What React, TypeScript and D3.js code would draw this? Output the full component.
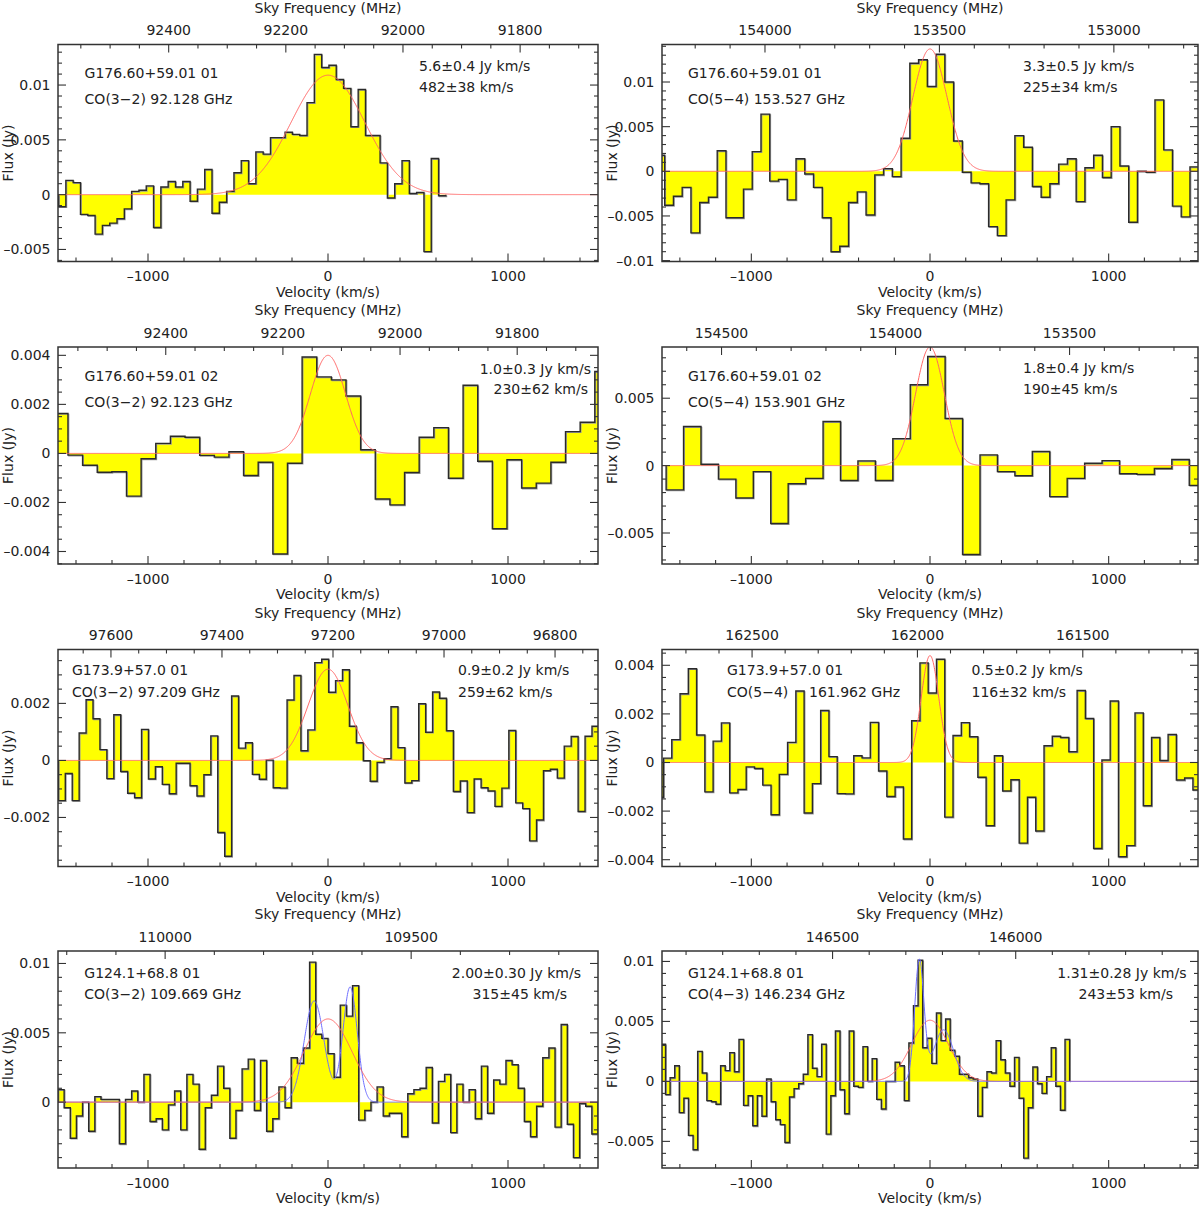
import React from 'react';
import * as d3 from 'd3';

const C_KMS = 299792.458;
const V_MIN = -1500;
const V_MAX = 1500;

// ---------- data (flux in Jy per velocity channel) ----------
const P1_VSTART = -1497, P1_DV = 40.6, P1_NU0 = 92128;
const P1_FLUX = [-0.0011, 0.0013, 0.0011, -0.0018, -0.0019, -0.0036, -0.0028, -0.0026, -0.0022, -0.0013,
  0.0003, 0.0004, 0.0008, -0.003, 0.0007, 0.0012, 0.0007, 0.0012, -0.0006, 0.0005,
  0.0023, -0.0017, -0.0007, 0.0003, 0.0020, 0.0031, 0.0010, 0.0039, 0.0037, 0.0052,
  0.0052, 0.0057, 0.0055, 0.0054, 0.0084, 0.0128, 0.0116, 0.0118, 0.0105, 0.0097,
  0.0062, 0.0096, 0.0054, 0.0054, 0.0029, -0.0003, 0.0010, 0.0031, 0.0001, 0.0002,
  -0.0052, 0.0033, -0.0001];

const P2_VSTART = -1534, P2_DV = 49, P2_NU0 = 153527;
const P2_FLUX = [0.0018, -0.0038, -0.0028, -0.0018, -0.0069, -0.0035, -0.0029, 0.0023, -0.0052, -0.0052,
  -0.0020, 0.0022, 0.0064, -0.0011, -0.0009, -0.0032, 0.0014, -0.0003, -0.0018, -0.0052,
  -0.0090, -0.0084, -0.0035, -0.0023, -0.0049, -0.0004, 0.0003, -0.0006, 0.0037, 0.0121,
  0.0125, 0.0095, 0.0131, 0.0100, 0.0034, -0.0001, -0.0013, -0.0014, -0.0062, -0.0072,
  -0.0032, 0.0040, 0.0027, -0.0017, -0.0029, -0.0014, 0.0008, 0.0014, -0.0034, 0.0004,
  0.0018, -0.0007, 0.0050, 0.0006, -0.0057, 0.0000, -0.0001, 0.0080, 0.0024, -0.0039,
  -0.0051, 0.0005];

const P3_VSTART = -1526, P3_DV = 81.3, P3_NU0 = 92123;
const P3_FLUX = [0.00163, -0.00007, -0.00048, -0.00077, -0.00075, -0.00174, -0.00022, 0.00041, 0.0007, 0.00066,
  -0.00008, -0.00015, 0.00007, -0.0009, -0.00036, -0.0041, -0.0004, 0.00393, 0.00312, 0.003,
  0.00234, 0.00015, -0.00186, -0.0021, -0.00078, 0.00066, 0.00105, -0.00101, 0.00278, -0.00032,
  -0.00307, -0.00026, -0.00141, -0.00121, -0.00036, 0.00089, 0.00127, 0.00334];

const P4_VSTART = -1477, P4_DV = 97.6, P4_NU0 = 153901;
const P4_FLUX = [-0.0018, 0.0029, 0.0001, -0.001, -0.0024, -0.00045, -0.0043, -0.00135, -0.00095, 0.00327,
  -0.0011, 0.00035, -0.0011, 0.002, 0.006, 0.0081, 0.0035, -0.0066, 0.0008, -0.00045,
  -0.00075, 0.00105, -0.0023, -0.00095, 0.00017, 0.00037, -0.0006, -0.00065, -0.00022, 0.00045,
  -0.00147];

const P5_VSTART = -1498, P5_DV = 38.5, P5_NU0 = 97209;
const P5_FLUX = [-0.00141, -0.00046, -0.00141, 0.00096, 0.00213, 0.00146, 0.00038, -0.00064, 0.0016, -0.00039,
  -0.00115, -0.00131, 0.00109, -0.00065, -0.00022, -0.00084, -0.00117, -0.0001, -0.0001, -0.00089,
  -0.00125, -0.0005, 0.00086, -0.00253, -0.00336, 0.00226, 0.00043, 0.00062, -0.00049, -0.00066,
  0.00001, -0.00096, -0.00097, 0.00212, 0.00298, 0.00034, 0.00107, 0.00343, 0.00355, 0.00239,
  0.0028, 0.00318, 0.0012, 0.00062, -0.00001, -0.00073, -0.00007, 0.00006, 0.00188, 0.00045,
  -0.00079, -0.00071, 0.00199, 0.00099, 0.0024, 0.00218, 0.00104, -0.00109, -0.00072, -0.00183,
  -0.00065, -0.00096, -0.00107, -0.00161, -0.00097, 0.00105, -0.00149, -0.00169, -0.00282, -0.00209,
  -0.00036, -0.00031, -0.00062, 0.0005, 0.00084, -0.00179, 0.00085, 0.0012];

const P6_VSTART = -1538, P6_DV = 46.3, P6_NU0 = 161962;
const P6_FLUX = [-0.00143, 0.00018, 0.00094, 0.00283, 0.00386, 0.00113, -0.00121, 0.00088, 0.00163, -0.00125,
  -0.00111, -0.00018, -0.00025, -0.00093, -0.00215, -0.00049, 0.00083, 0.00294, -0.00208, -0.00087,
  0.00214, 0.00024, -0.00128, -0.00129, 0.00028, 0.00019, 0.00165, -0.00035, -0.0014, -0.00101,
  -0.00315, 0.00172, 0.0041, 0.00286, 0.00425, -0.00225, 0.00111, 0.00164, 0.00106, -0.00061,
  -0.0026, 0.00028, -0.00117, -0.00071, -0.00332, -0.00143, -0.00282, 0.00069, 0.00108, 0.00103,
  0.00044, 0.00296, 0.00181, -0.00354, 0.0001, 0.00253, -0.00388, -0.00342, 0.00204, -0.00178,
  0.00103, 0.00008, 0.00115, -0.00072, -0.00064, -0.00113];

const P7_VSTART = -1500, P7_DV = 34.09, P7_NU0 = 109669;
const P7_FLUX = [0.0009, -0.0004, -0.0026, -0.001, 0.0000, -0.0021, 0.0004, 0.0002, 0.0002, 0.0002,
  -0.003, 0.0002, 0.0008, 0.0000, 0.002, -0.0014, -0.0012, -0.002, -0.0002, 0.0008,
  -0.002, 0.002, 0.0013, -0.0034, -0.0004, 0.0005, 0.0026, 0.001, -0.0026, -0.0006,
  0.0024, 0.0031, -0.0006, 0.003, -0.0021, -0.0012, 0.0011, -0.0004, 0.0032, 0.0028,
  0.0039, 0.0101, 0.0049, 0.0046, 0.0035, 0.0018, 0.007, 0.0062, 0.0084, -0.0013,
  -0.0006, 0.0000, 0.0011, -0.001, -0.0008, -0.0008, -0.0025, 0.0006, 0.0009, 0.001,
  0.0025, -0.0015, 0.0015, 0.002, -0.0022, 0.0013, 0.0000, 0.0009, -0.0012, 0.0026,
  -0.0008, 0.0016, 0.0013, 0.003, 0.0027, 0.001, -0.0014, -0.0025, -0.0003, 0.0032,
  0.0039, -0.0018, 0.0056, -0.0016, -0.004, -0.0001, -0.0003, -0.0023];

const P8_VSTART = -1506, P8_DV = 25.7, P8_NU0 = 146234;
const P8_FLUX = [0.0031, -0.0011, 0.0003, 0.0013, -0.0026, -0.0014, -0.0045, -0.0057, 0.0025, 0.0007,
  -0.0016, -0.0017, -0.0019, 0.0013, 0.0009, 0.0024, 0.0008, 0.0035, -0.002, -0.0012,
  -0.0037, -0.0012, -0.0029, 0.0002, -0.0017, -0.0032, -0.0036, -0.0051, -0.0013, -0.0006,
  -0.0002, 0.0006, 0.0039, 0.0011, 0.0004, 0.0031, -0.0044, -0.0012, 0.0042, -0.0007,
  -0.0027, 0.0042, -0.0004, -0.0005, 0.0029, 0.0000, 0.0019, -0.0015, -0.0023, 0.0000,
  0.0000, 0.0016, 0.0013, -0.0016, 0.0032, 0.0063, 0.0101, 0.0028, 0.0036, 0.0015,
  0.0057, 0.0034, 0.0052, 0.0026, 0.0021, 0.0006, 0.0006, 0.0003, 0.0002, -0.0029,
  -0.0005, 0.0008, 0.0007, 0.0034, 0.0018, 0.0007, -0.0004, 0.002, -0.0014, -0.0064,
  -0.0022, 0.0012, -0.0002, -0.001, 0.0004, 0.0028, -0.0004, -0.0024, 0.0035];

// Gaussian fits: [center km/s, peak Jy, FWHM km/s]
const P1_RED = [[0, 0.0109, 482]];
const P2_RED = [[0, 0.0137, 225]];
const P3_RED = [[0, 0.0040, 230]];
const P4_RED = [[0, 0.0088, 190]];
const P5_RED = [[0, 0.0032, 259]];
const P6_RED = [[0, 0.0044, 116]];
const P7_RED = [[0, 0.0060, 315]];
const P7_BLUE = [[-77, 0.0073, 130], [123, 0.0083, 94]];
const P8_RED = [[0, 0.0051, 243]];
const P8_BLUE = [[-60, 0.0100, 61], [76, 0.0043, 130]];

// tick labels
const VEL_LABELS = [-1000, 0, 1000];
const VEL_MINOR = [-1400, -1200, -1000, -800, -600, -400, -200, 0, 200, 400, 600, 800, 1000, 1200, 1400];
const P1_FREQ = [92400, 92200, 92000, 91800];
const P2_FREQ = [154000, 153500, 153000];
const P3_FREQ = [92400, 92200, 92000, 91800];
const P4_FREQ = [154500, 154000, 153500];
const P5_FREQ = [97600, 97400, 97200, 97000, 96800];
const P6_FREQ = [162500, 162000, 161500];
const P7_FREQ = [110000, 109500];
const P8_FREQ = [146500, 146000];
const P1_YT = [0.01, 0.005, 0, -0.005];
const P2_YT = [0.01, 0.005, 0, -0.005, -0.01];
const P3_YT = [0.004, 0.002, 0, -0.002, -0.004];
const P4_YT = [0.005, 0, -0.005];
const P5_YT = [0.002, 0, -0.002];
const P6_YT = [0.004, 0.002, 0, -0.002, -0.004];
const P7_YT = [0.01, 0.005, 0];
const P8_YT = [0.01, 0.005, 0, -0.005];

// ---------- layout ----------
const COL_LEFT = [58, 662];
const COL_W = [540, 536];
const ROW_TOP = [44.5, 347, 649.5, 951];
const PANEL_H = 217;
const FONT = "'DejaVu Sans', sans-serif";
const FS = 14;
const INK = '#222';

type Note = { t: string; dx: number; dy: number; end?: boolean };
type Cfg = {
  id: string; col: number; row: number; flux: number[]; vStart: number; dv: number; nu0: number;
  freq: number[]; fMinor: number; yDomain: [number, number]; yTicks: number[]; yMinor: number;
  red: number[][]; blue: number[][] | null; blueOnTop: boolean; notes: Note[];
};

const PANELS: Cfg[] = [
  { id: 'p1', col: 0, row: 0, flux: P1_FLUX, vStart: P1_VSTART, dv: P1_DV, nu0: P1_NU0, freq: P1_FREQ, fMinor: 50,
    yDomain: [-0.0061, 0.0137], yTicks: P1_YT, yMinor: 0.001, red: P1_RED, blue: null, blueOnTop: false,
    notes: [{ t: 'G176.60+59.01 01', dx: 26.6, dy: 28.5 }, { t: 'CO(3\u22122) 92.128 GHz', dx: 26.6, dy: 54.5 },
      { t: '5.6\u00b10.4 Jy km/s', dx: 361, dy: 21.5 }, { t: '482\u00b138 km/s', dx: 361, dy: 42.5 }] },
  { id: 'p2', col: 1, row: 0, flux: P2_FLUX, vStart: P2_VSTART, dv: P2_DV, nu0: P2_NU0, freq: P2_FREQ, fMinor: 100,
    yDomain: [-0.0101, 0.0142], yTicks: P2_YT, yMinor: 0.001, red: P2_RED, blue: null, blueOnTop: false,
    notes: [{ t: 'G176.60+59.01 01', dx: 26, dy: 28.5 }, { t: 'CO(5\u22124) 153.527 GHz', dx: 26, dy: 54.5 },
      { t: '3.3\u00b10.5 Jy km/s', dx: 361, dy: 21.5 }, { t: '225\u00b134 km/s', dx: 361, dy: 42.5 }] },
  { id: 'p3', col: 0, row: 1, flux: P3_FLUX, vStart: P3_VSTART, dv: P3_DV, nu0: P3_NU0, freq: P3_FREQ, fMinor: 50,
    yDomain: [-0.00451, 0.00434], yTicks: P3_YT, yMinor: 0.0005, red: P3_RED, blue: null, blueOnTop: false,
    notes: [{ t: 'G176.60+59.01 02', dx: 26.6, dy: 29 }, { t: 'CO(3\u22122) 92.123 GHz', dx: 26.6, dy: 54.7 },
      { t: '1.0\u00b10.3 Jy km/s', dx: 533, dy: 22, end: true }, { t: '230\u00b162 km/s', dx: 530, dy: 42, end: true }] },
  { id: 'p4', col: 1, row: 1, flux: P4_FLUX, vStart: P4_VSTART, dv: P4_DV, nu0: P4_NU0, freq: P4_FREQ, fMinor: 100,
    yDomain: [-0.0073, 0.0088], yTicks: P4_YT, yMinor: 0.001, red: P4_RED, blue: null, blueOnTop: false,
    notes: [{ t: 'G176.60+59.01 02', dx: 26, dy: 29 }, { t: 'CO(5\u22124) 153.901 GHz', dx: 26, dy: 54.7 },
      { t: '1.8\u00b10.4 Jy km/s', dx: 361, dy: 21 }, { t: '190\u00b145 km/s', dx: 361, dy: 42 }] },
  { id: 'p5', col: 0, row: 2, flux: P5_FLUX, vStart: P5_VSTART, dv: P5_DV, nu0: P5_NU0, freq: P5_FREQ, fMinor: 50,
    yDomain: [-0.00372, 0.00389], yTicks: P5_YT, yMinor: 0.0005, red: P5_RED, blue: null, blueOnTop: false,
    notes: [{ t: 'G173.9+57.0 01', dx: 14, dy: 20.5 }, { t: 'CO(3\u22122) 97.209 GHz', dx: 14, dy: 42.5 },
      { t: '0.9\u00b10.2 Jy km/s', dx: 400, dy: 20.5 }, { t: '259\u00b162 km/s', dx: 400, dy: 42.5 }] },
  { id: 'p6', col: 1, row: 2, flux: P6_FLUX, vStart: P6_VSTART, dv: P6_DV, nu0: P6_NU0, freq: P6_FREQ, fMinor: 100,
    yDomain: [-0.00428, 0.00465], yTicks: P6_YT, yMinor: 0.0005, red: P6_RED, blue: null, blueOnTop: false,
    notes: [{ t: 'G173.9+57.0 01', dx: 65, dy: 20.5 }, { t: 'CO(5\u22124)', dx: 65, dy: 42.5 },
      { t: '161.962 GHz', dx: 147, dy: 42.5 },
      { t: '0.5\u00b10.2 Jy km/s', dx: 309.5, dy: 20.5 }, { t: '116\u00b132 km/s', dx: 309.5, dy: 42.5 }] },
  { id: 'p7', col: 0, row: 3, flux: P7_FLUX, vStart: P7_VSTART, dv: P7_DV, nu0: P7_NU0, freq: P7_FREQ, fMinor: 100,
    yDomain: [-0.00475, 0.0109], yTicks: P7_YT, yMinor: 0.001, red: P7_RED, blue: P7_BLUE, blueOnTop: false,
    notes: [{ t: 'G124.1+68.8 01', dx: 26.3, dy: 22 }, { t: 'CO(3\u22122) 109.669 GHz', dx: 26.3, dy: 42.5 },
      { t: '2.00\u00b10.30 Jy km/s', dx: 523, dy: 22, end: true }, { t: '315\u00b145 km/s', dx: 509, dy: 42.5, end: true }] },
  { id: 'p8', col: 1, row: 3, flux: P8_FLUX, vStart: P8_VSTART, dv: P8_DV, nu0: P8_NU0, freq: P8_FREQ, fMinor: 100,
    yDomain: [-0.00722, 0.01087], yTicks: P8_YT, yMinor: 0.001, red: P8_RED, blue: P8_BLUE, blueOnTop: true,
    notes: [{ t: 'G124.1+68.8 01', dx: 26, dy: 22 }, { t: 'CO(4\u22123) 146.234 GHz', dx: 26, dy: 42.5 },
      { t: '1.31\u00b10.28 Jy km/s', dx: 524.5, dy: 22, end: true }, { t: '243\u00b153 km/s', dx: 511, dy: 42.5, end: true }] },
];

const fmtNum = (v: number) => (v === 0 ? '0' : (v < 0 ? '\u2013' : '') + String(Math.abs(v)));

function Panel({ p }: { p: Cfg }) {
  const left = COL_LEFT[p.col];
  const width = COL_W[p.col];
  const right = left + width;
  const top = ROW_TOP[p.row];
  const bottom = top + PANEL_H;
  const x = d3.scaleLinear().domain([V_MIN, V_MAX]).range([left, right]);
  const y = d3.scaleLinear().domain(p.yDomain).range([bottom, top]);
  const fx = d3.scaleLinear()
    .domain([p.nu0 * (1 - V_MIN / C_KMS), p.nu0 * (1 - V_MAX / C_KMS)])
    .range([left, right]);

  const line = d3.line<[number, number]>().x(d => x(d[0])).y(d => y(d[1]));
  const pts: [number, number][] = [[p.vStart, 0]];
  p.flux.forEach((f, i) => {
    const a = p.vStart + i * p.dv;
    pts.push([a, f], [a + p.dv, f]);
  });
  pts.push([p.vStart + p.flux.length * p.dv, 0]);
  const stepD = line(pts) || '';

  const vs = d3.range(V_MIN, V_MAX + 0.1, 2);
  const gauss = (g: number[][]) =>
    line(vs.map(v => [v, g.reduce((s, c) => {
      const sig = c[2] / 2.35482;
      return s + c[1] * Math.exp(-((v - c[0]) ** 2) / (2 * sig * sig));
    }, 0)] as [number, number])) || '';

  const yLo = Math.ceil(p.yDomain[0] / p.yMinor - 1e-6);
  const yHi = Math.floor(p.yDomain[1] / p.yMinor + 1e-6);
  const yMin = d3.range(yLo, yHi + 1).map(k => k * p.yMinor)
    .filter(v => !p.yTicks.some(t => Math.abs(t - v) < p.yMinor / 10));
  const fd = fx.domain();
  const fLo = Math.ceil(Math.min(fd[0], fd[1]) / p.fMinor);
  const fHi = Math.floor(Math.max(fd[0], fd[1]) / p.fMinor);
  const fMin = d3.range(fLo, fHi + 1).map(k => k * p.fMinor).filter(f => !p.freq.includes(f));
  const vMin = VEL_MINOR.filter(v => !VEL_LABELS.includes(v));

  const MJ = 8, MN = 4;
  const tk = { stroke: '#333', strokeWidth: 1.1 };
  const redD = gauss(p.red);
  const blueD = p.blue ? gauss(p.blue) : null;
  const redEl = <path d={redD} fill="none" stroke="#ff6464" strokeWidth={1} />;
  const blueEl = blueD ? <path d={blueD} fill="none" stroke="#6e6eff" strokeWidth={1} /> : null;

  return (
    <g>
      <defs>
        <clipPath id={`clip-${p.id}`}>
          <rect x={left} y={top} width={width} height={PANEL_H} />
        </clipPath>
      </defs>
      <g clipPath={`url(#clip-${p.id})`}>
        <path d={stepD + 'Z'} fill="#ffff00" stroke="none" />
        <path d={stepD} fill="none" stroke="#9a9a9a" strokeWidth={1.2} transform="translate(0.8,0.8)" />
        <path d={stepD} fill="none" stroke="#2a2a2a" strokeWidth={1.4} />
        {p.blueOnTop ? <>{redEl}{blueEl}</> : <>{blueEl}{redEl}</>}
      </g>
      <rect x={left} y={top} width={width} height={PANEL_H} fill="none" stroke="#333" strokeWidth={1.5} />
      {p.yTicks.map(v => (
        <g key={`ym${v}`}>
          <line x1={left} x2={left + MJ} y1={y(v)} y2={y(v)} {...tk} />
          <line x1={right} x2={right - MJ} y1={y(v)} y2={y(v)} {...tk} />
          <text x={left - 7.5} y={y(v)} textAnchor="end" dominantBaseline="central">{fmtNum(v)}</text>
        </g>
      ))}
      {yMin.map(v => (
        <g key={`yn${v}`}>
          <line x1={left} x2={left + MN} y1={y(v)} y2={y(v)} {...tk} />
          <line x1={right} x2={right - MN} y1={y(v)} y2={y(v)} {...tk} />
        </g>
      ))}
      {VEL_LABELS.map(v => (
        <g key={`vm${v}`}>
          <line x1={x(v)} x2={x(v)} y1={bottom} y2={bottom - MJ} {...tk} />
          <text x={x(v)} y={bottom + 14.5} textAnchor="middle" dominantBaseline="central">{fmtNum(v)}</text>
        </g>
      ))}
      {vMin.map(v => (
        <line key={`vn${v}`} x1={x(v)} x2={x(v)} y1={bottom} y2={bottom - MN} {...tk} />
      ))}
      {p.freq.map(f => (
        <g key={`fm${f}`}>
          <line x1={fx(f)} x2={fx(f)} y1={top} y2={top + MJ} {...tk} />
          <text x={fx(f)} y={top - 14.5} textAnchor="middle" dominantBaseline="central">{String(f)}</text>
        </g>
      ))}
      {fMin.map(f => (
        <line key={`fn${f}`} x1={fx(f)} x2={fx(f)} y1={top} y2={top + MN} {...tk} />
      ))}
      <text x={(left + right) / 2} y={top - 37} textAnchor="middle" dominantBaseline="central">Sky Frequency (MHz)</text>
      <text x={(left + right) / 2} y={bottom + 30} textAnchor="middle" dominantBaseline="central">Velocity (km/s)</text>
      <text transform={`translate(${left - 50},${(top + bottom) / 2}) rotate(-90)`} textAnchor="middle" dominantBaseline="central">Flux (Jy)</text>
      {p.notes.map((n, i) => (
        <text key={`n${i}`} x={left + n.dx} y={top + n.dy} textAnchor={n.end ? 'end' : 'start'} dominantBaseline="central">{n.t}</text>
      ))}
    </g>
  );
}

export default function App() {
  return (
    <svg width={1200} height={1206} viewBox="0 0 1200 1206"
      style={{ position: 'absolute', left: 0, top: 0, background: '#fff' }}
      fontFamily={FONT} fontSize={FS} fill={INK}>
      <rect x={0} y={0} width={1200} height={1206} fill="#fff" />
      {PANELS.map(p => <Panel key={p.id} p={p} />)}
    </svg>
  );
}
